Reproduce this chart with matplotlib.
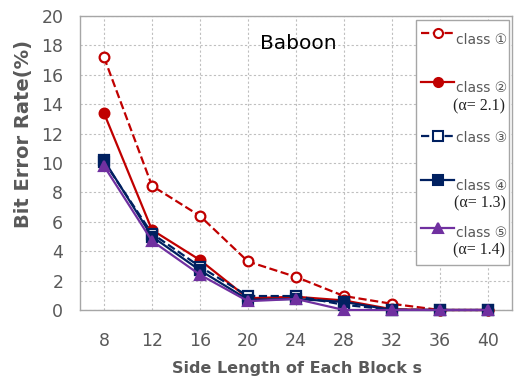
import matplotlib.pyplot as plt
from matplotlib.lines import Line2D
from matplotlib.patches import Rectangle

# data
block_sizes = [8, 12, 16, 20, 24, 28, 32, 36, 40]
class1 = [17.2, 8.45, 6.4, 3.3, 2.25, 0.95, 0.42, 0.0, 0.0]
class2 = [13.4, 5.45, 3.4, 0.8, 0.9, 0.65, 0.05, 0.0, 0.0]
class3 = [10.1, 5.2, 2.95, 0.95, 0.95, 0.35, 0.02, 0.0, 0.0]
class4 = [10.2, 5.0, 2.7, 0.7, 0.75, 0.55, 0.0, 0.0, 0.0]
class5 = [9.8, 4.7, 2.4, 0.6, 0.75, 0.0, 0.0, 0.0, 0.0]
alphas = {2: '2.1', 4: '1.3', 5: '1.4'}

RED = '#C00000'
NAVY = '#002060'
PURPLE = '#7030A0'
GRAY = '#595959'
CIRC = ['DejaVu Sans', 'Noto Sans CJK JP']

fig = plt.figure(figsize=(5.14, 3.82), dpi=100)
ax = fig.add_axes([0.1556, 0.1885, 0.8404, 0.7695])

pos = list(range(len(block_sizes)))
styles = [
    (class1, RED, '--', 'o', 'white'),
    (class2, RED, '-', 'o', RED),
    (class3, NAVY, '--', 's', 'white'),
    (class4, NAVY, '-', 's', NAVY),
    (class5, PURPLE, '-', '^', PURPLE),
]
for vals, col, ls, mk, fc in styles:
    ax.plot(pos, vals, color=col, linestyle=ls, linewidth=1.6, marker=mk,
            markersize=7, markerfacecolor=fc, markeredgecolor=col,
            markeredgewidth=1.6, clip_on=False, zorder=3)

ax.set_xlim(-0.5, len(block_sizes) - 0.5)
ax.set_ylim(0, 20)
ax.set_yticks(range(0, 21, 2))
ax.set_xticks(pos)
ax.set_xticklabels([str(b) for b in block_sizes])
ax.tick_params(length=0, labelcolor=GRAY, labelsize=12.5)
ax.tick_params(axis='y', pad=12)
ax.tick_params(axis='x', pad=16)

ax.grid(True, linestyle=(0, (2, 2)), color='#BFBFBF', linewidth=0.8)
ax.set_axisbelow(True)
for sp in ax.spines.values():
    sp.set_color('#A6A6A6')
    sp.set_linewidth(1.0)

ax.set_ylabel('Bit Error Rate(%)', fontsize=14, fontweight='bold', color=GRAY)
ax.yaxis.set_label_coords(-0.108, 0.6)
ax.set_xlabel('Side Length of Each Block s', fontsize=11.5, fontweight='bold',
              color=GRAY)
ax.xaxis.set_label_coords(0.502, -0.172)

ax.text(0.505, 0.908, 'Baboon', transform=ax.transAxes, fontsize=14.5,
        ha='center', va='center', color='black')

# hand-drawn legend box
ax.add_patch(Rectangle((0.778, 0.153), 0.215, 0.833, transform=ax.transAxes,
                       facecolor='white', edgecolor='#A6A6A6', linewidth=1.0,
                       zorder=5))
circled = ['\u2460', '\u2461', '\u2462', '\u2463', '\u2464']
line_y = [0.942, 0.776, 0.592, 0.442, 0.279]
label_y = [0.918, 0.755, 0.585, 0.421, 0.262]
alpha_y = {2: 0.692, 4: 0.362, 5: 0.203}
for i, (vals, col, ls, mk, fc) in enumerate(styles):
    ax.add_line(Line2D([0.79, 0.866], [line_y[i]] * 2, transform=ax.transAxes,
                       color=col, linestyle=ls, linewidth=1.6, zorder=6))
    ax.add_line(Line2D([0.828], [line_y[i]], transform=ax.transAxes,
                       marker=mk, markersize=6.5, markerfacecolor=fc,
                       markeredgecolor=col, markeredgewidth=1.5, zorder=7))
    ax.text(0.871, label_y[i], 'class ' + circled[i], transform=ax.transAxes,
            fontsize=10, color=GRAY, ha='left', va='center', family=CIRC,
            zorder=8)
    k = i + 1
    if k in alphas:
        ax.text(0.985, alpha_y[k], '(\u03b1= ' + alphas[k] + ')',
                transform=ax.transAxes, fontsize=11.5, color='#222222',
                ha='right', va='center', family='Liberation Serif', zorder=8)

plt.savefig('out.png', dpi=100)
